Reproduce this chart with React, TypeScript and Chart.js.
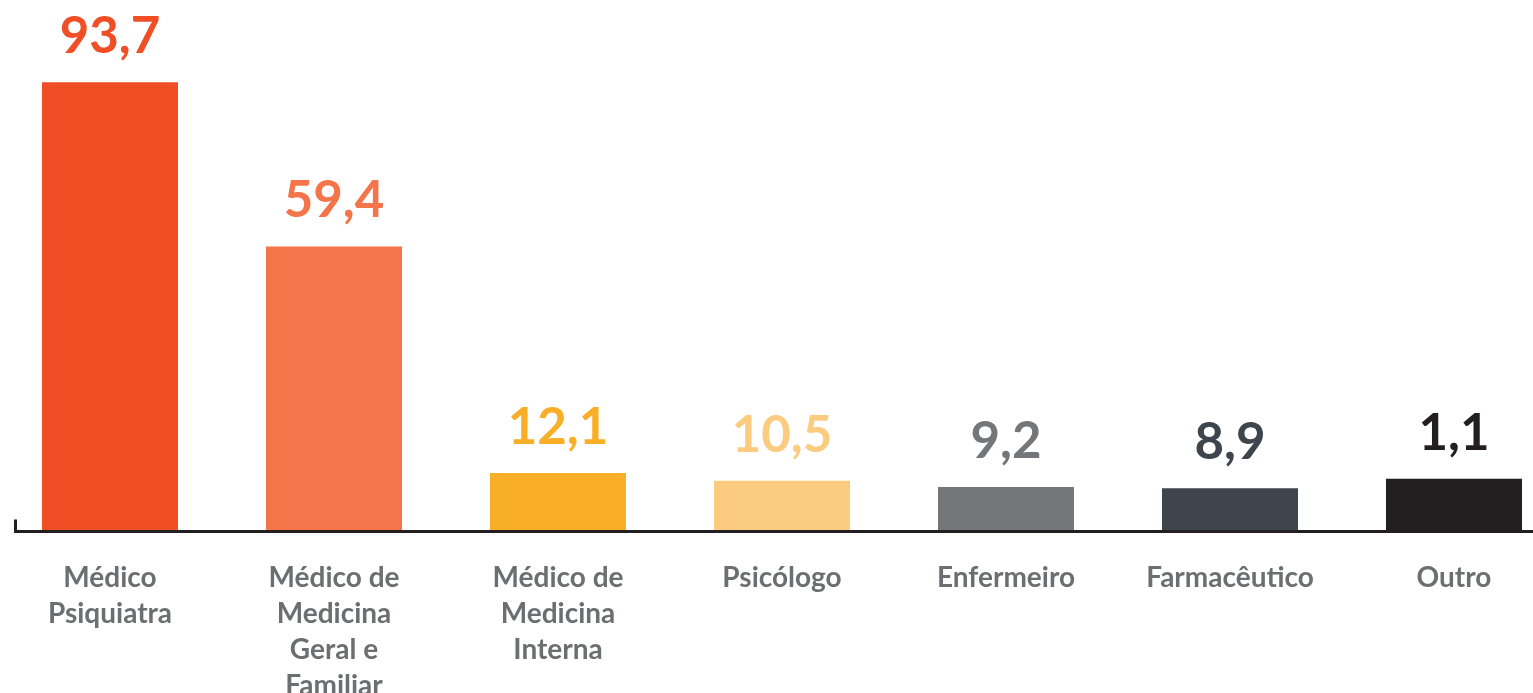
import React, { useEffect, useRef } from "react";
import { Chart, registerables } from "chart.js";

Chart.register(...registerables);

const categories: string[][] = [
  ["Médico", "Psiquiatra"],
  ["Médico de", "Medicina", "Geral e", "Familiar"],
  ["Médico de", "Medicina", "Interna"],
  ["Psicólogo"],
  ["Enfermeiro"],
  ["Farmacêutico"],
  ["Outro"],
];

// bar heights as drawn in the picture
const barValues: number[] = [93.7, 59.4, 12.1, 10.5, 9.2, 8.9, 10.9];
// value labels as printed above the bars
const valueLabels: string[] = ["93,7", "59,4", "12,1", "10,5", "9,2", "8,9", "1,1"];
const barColors: string[] = [
  "#F04E25",
  "#F37549",
  "#F9AE28",
  "#FBCB80",
  "#737779",
  "#3E454D",
  "#231F20",
];

const FONT = "Lato, 'Open Sans', sans-serif";

const valueLabelPlugin = {
  id: "valueLabels",
  afterDatasetsDraw(chart: any) {
    const ctx = chart.ctx;
    const meta = chart.getDatasetMeta(0);
    ctx.save();
    ctx.font = `bold 51px ${FONT}`;
    ctx.textAlign = "center";
    ctx.textBaseline = "alphabetic";
    meta.data.forEach((bar: any, i: number) => {
      ctx.fillStyle = barColors[i];
      ctx.fillText(valueLabels[i], bar.x, bar.y - 29);
    });
    ctx.restore();
  },
};

const axisLinePlugin = {
  id: "axisLine",
  afterDatasetsDraw(chart: any) {
    const ctx = chart.ctx;
    const y = chart.chartArea.bottom + 0.5;
    ctx.save();
    ctx.strokeStyle = "#231F20";
    ctx.lineWidth = 3;
    ctx.beginPath();
    ctx.moveTo(15.5, y - 12);
    ctx.lineTo(15.5, y);
    ctx.lineTo(chart.width, y);
    ctx.stroke();
    ctx.restore();
  },
};

export default function App() {
  const ref = useRef<HTMLCanvasElement | null>(null);

  useEffect(() => {
    if (!ref.current) return;
    const chart = new Chart(ref.current, {
      type: "bar",
      data: {
        labels: categories,
        datasets: [
          {
            data: barValues,
            backgroundColor: barColors,
            borderWidth: 0,
            barPercentage: 136 / 224,
            categoryPercentage: 1,
            clip: { left: 120, right: 120, top: 60, bottom: 10 },
          },
        ],
      },
      options: {
        animation: false,
        responsive: false,
        maintainAspectRatio: false,
        layout: { padding: { left: 110, right: 79, top: 52, bottom: 0 } },
        plugins: {
          legend: { display: false },
          tooltip: { enabled: false },
        },
        scales: {
          x: {
            offset: false,
            grid: { display: false, drawTicks: false },
            border: { display: false },
            ticks: {
              autoSkip: false,
              maxRotation: 0,
              minRotation: 0,
              padding: 29,
              color: "#6D6E71",
              font: { family: FONT, weight: "bold", size: 28, lineHeight: "36px" },
            },
            afterFit: (scale: any) => {
              scale.height = 162;
            },
          },
          y: {
            display: false,
            min: 0,
            max: 100,
          },
        },
      },
      plugins: [valueLabelPlugin, axisLinePlugin],
    });
    return () => chart.destroy();
  }, []);

  return (
    <div
      style={{
        position: "fixed",
        left: 0,
        top: 0,
        width: 1533,
        height: 693,
        overflow: "hidden",
        background: "#ffffff",
      }}
    >
      <canvas ref={ref} width={1533} height={693} style={{ width: 1533, height: 693 }} />
    </div>
  );
}
